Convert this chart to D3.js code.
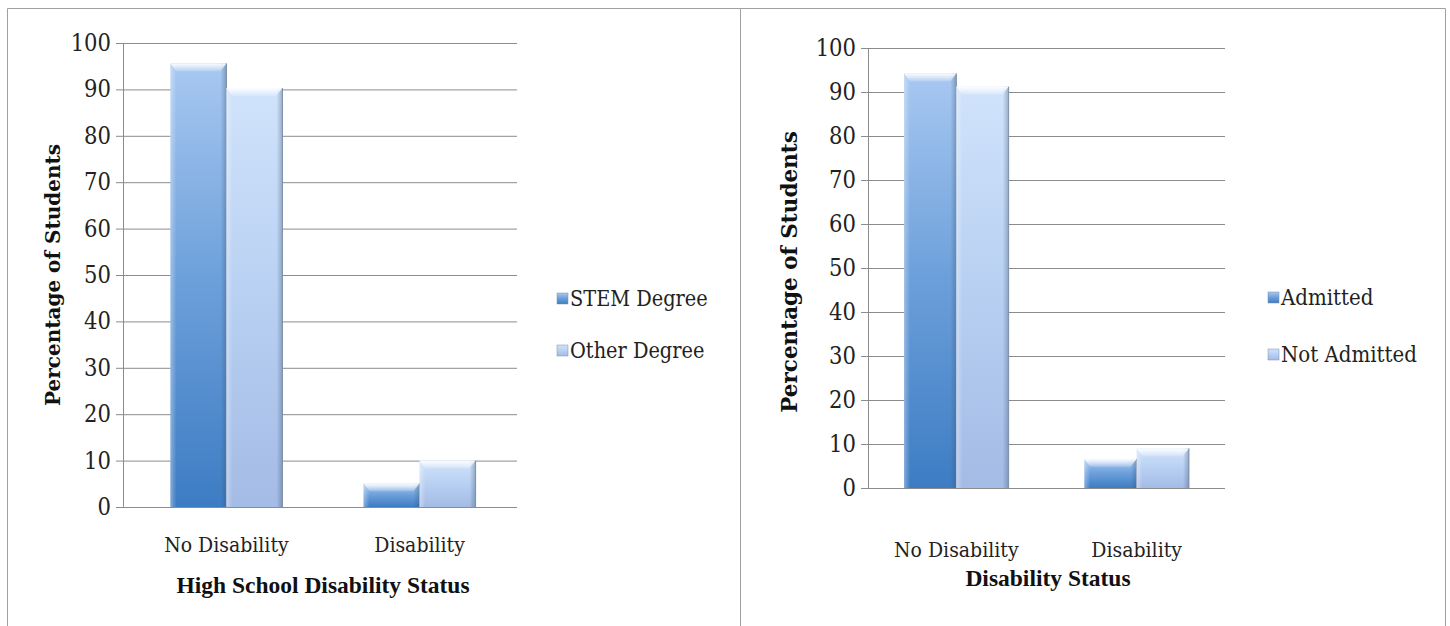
<!DOCTYPE html>
<html>
<head>
<meta charset="utf-8">
<script src="https://cdn.jsdelivr.net/npm/d3@7"></script>
<style>
  html, body { margin: 0; padding: 0; background: #fff; }
  svg { display: block; }
  .cond { font-family: "DejaVu Serif Condensed", "DejaVu Serif", serif; font-stretch: condensed; }
</style>
</head>
<body>
<svg id="chart" width="1450" height="626"></svg>
<script>
// Category and series data
const categories = ["No Disability", "Disability"];
const yTicks = [0, 10, 20, 30, 40, 50, 60, 70, 80, 90, 100];

const degreeSeries = ["STEM Degree", "Other Degree"];
const stemDegree = [95.6, 5.1];
const otherDegree = [90.3, 10.0];

const admissionSeries = ["Admitted", "Not Admitted"];
const admitted = [94.2, 6.6];
const notAdmitted = [91.2, 9.0];

const svg = d3.select("#chart");
const defs = svg.append("defs");

// Gradients for the two bar styles (dark blue / pale blue)
function vGrad(id, stops) {
  const g = defs.append("linearGradient").attr("id", id)
    .attr("x1", 0).attr("y1", 1).attr("x2", 0).attr("y2", 0);
  stops.forEach(s => g.append("stop").attr("offset", s[0]).attr("stop-color", s[1]));
}
vGrad("gDark", [[0, "#3d7cc3"], [0.5, "#6b9fda"], [1, "#a8c8f1"]]);
vGrad("gLight", [[0, "#a4bbe5"], [0.5, "#b8d0f2"], [1, "#d0e3fb"]]);
const hl = defs.append("linearGradient").attr("id", "gTop")
  .attr("x1", 0).attr("y1", 0).attr("x2", 0).attr("y2", 1);
hl.append("stop").attr("offset", 0).attr("stop-color", "#ffffff").attr("stop-opacity", 0.95);
hl.append("stop").attr("offset", 1).attr("stop-color", "#ffffff").attr("stop-opacity", 0.15);
const sideL = defs.append("linearGradient").attr("id", "gSideL")
  .attr("x1", 0).attr("y1", 0).attr("x2", 1).attr("y2", 0);
sideL.append("stop").attr("offset", 0).attr("stop-color", "#ffffff").attr("stop-opacity", 0.35);
sideL.append("stop").attr("offset", 1).attr("stop-color", "#ffffff").attr("stop-opacity", 0);
const sideR = defs.append("linearGradient").attr("id", "gSideR")
  .attr("x1", 0).attr("y1", 0).attr("x2", 1).attr("y2", 0);
sideR.append("stop").attr("offset", 0).attr("stop-color", "#35506f").attr("stop-opacity", 0);
sideR.append("stop").attr("offset", 1).attr("stop-color", "#35506f").attr("stop-opacity", 0.35);

const fills = ["url(#gDark)", "url(#gLight)"];
const boldFont = "'Liberation Serif', serif";
const titleFont = "'DejaVu Serif', serif";

// Panel frames
svg.append("path")
  .attr("d", "M7.5,630 V8.5 H1445.5 V630 M740.5,8.5 V630")
  .attr("fill", "none").attr("stroke", "#a0a0a0").attr("stroke-width", 1);

function drawPanel(opt) {
  const g = svg.append("g");
  const y = d3.scaleLinear().domain([0, 100]).range([opt.bottom, opt.top]);
  const x = d3.scaleBand().domain(categories).range([opt.left + opt.bandShift, opt.right + opt.bandShift])
    .paddingInner(opt.padIn).paddingOuter(opt.padOut);
  const xs = d3.scaleBand().domain(opt.series).range([0, x.bandwidth()]);

  // Gridlines with tick labels
  const yAxis = d3.axisLeft(y).tickValues(yTicks)
    .tickSize(-(opt.right - opt.left)).tickPadding(12);
  const ga = g.append("g").attr("transform", `translate(${opt.left},0)`).call(yAxis);
  ga.select(".domain").remove();
  ga.selectAll(".tick line").attr("stroke", "#8c8c8c").attr("x1", -7);
  ga.selectAll(".tick text")
    .attr("class", "cond").attr("font-size", opt.tickSize)
    .attr("fill", "#222");
  ga.attr("font-family", null);

  // Vertical axis line
  g.append("line")
    .attr("x1", opt.left + 0.5).attr("x2", opt.left + 0.5)
    .attr("y1", y(100)).attr("y2", y(0))
    .attr("stroke", "#8c8c8c");

  // Bars
  const rows = categories.map((c, i) => opt.series.map((s, j) => ({
    cat: c, ser: s, j: j, v: opt.values[j][i]
  }))).flat();

  const bars = g.selectAll("g.bar").data(rows).join("g").attr("class", "bar")
    .attr("transform", d => `translate(${x(d.cat) + xs(d.ser)},0)`);
  const bw = xs.bandwidth();
  bars.append("rect")
    .attr("x", 0).attr("width", bw)
    .attr("y", d => y(d.v)).attr("height", d => y(0) - y(d.v))
    .attr("fill", d => fills[d.j]);
  bars.append("rect")
    .attr("x", 0).attr("width", 6)
    .attr("y", d => y(d.v)).attr("height", d => y(0) - y(d.v))
    .attr("fill", "url(#gSideL)");
  bars.append("rect")
    .attr("x", bw - 6).attr("width", 6)
    .attr("y", d => y(d.v)).attr("height", d => y(0) - y(d.v))
    .attr("fill", "url(#gSideR)");
  bars.append("path")
    .attr("d", d => {
      const t = y(d.v), h = Math.min(8, (y(0) - y(d.v)) / 2);
      return `M0,${t} H${bw} L${bw - 6},${t + h} H6 Z`;
    })
    .attr("fill", "url(#gTop)");
  bars.append("rect")
    .attr("x", bw - 0.5).attr("width", 1)
    .attr("y", d => y(d.v)).attr("height", d => y(0) - y(d.v))
    .attr("fill", "#7d8ea6");

  // Category labels
  g.selectAll("text.catlab").data(categories).join("text")
    .attr("class", "cond catlab")
    .attr("x", d => x(d) + x.bandwidth() / 2)
    .attr("y", opt.catY)
    .attr("text-anchor", "middle")
    .attr("font-size", opt.catSize)
    .attr("fill", "#222")
    .text(d => d);

  // Axis titles
  g.append("text")
    .attr("x", opt.xTitleX).attr("y", opt.xTitleY)
    .attr("text-anchor", "middle")
    .attr("font-family", boldFont).attr("font-weight", "bold")
    .attr("font-size", opt.xTitleSize).attr("fill", "#111")
    .text(opt.xTitle);
  g.append("text")
    .attr("transform", `translate(${opt.yTitleX},${opt.yTitleY}) rotate(-90)`)
    .attr("text-anchor", "middle")
    .attr("font-family", titleFont).attr("font-weight", "bold")
    .attr("font-size", opt.yTitleSize).attr("fill", "#111")
    .text("Percentage of Students");

  // Legend
  const lg = g.selectAll("g.leg").data(opt.series).join("g").attr("class", "leg")
    .attr("transform", (d, i) => `translate(${opt.legX},${opt.legY + i * opt.legGap})`);
  lg.append("rect")
    .attr("x", 0).attr("y", -13).attr("width", 11).attr("height", 11)
    .attr("fill", (d, i) => fills[i]).attr("stroke", "#7d8ea6").attr("stroke-width", 0.5);
  lg.append("text")
    .attr("class", "cond")
    .attr("x", 13).attr("y", 0)
    .attr("font-size", opt.legSize)
    .attr("fill", "#222")
    .text(d => d);
}

drawPanel({
  left: 123, right: 517, top: 43, bottom: 507, bandShift: 3, padIn: 0.42, padOut: 0.23,
  series: degreeSeries, values: [stemDegree, otherDegree],
  tickSize: 23.5, catSize: 21, catY: 552,
  xTitle: "High School Disability Status", xTitleX: 323, xTitleY: 593, xTitleSize: 23.5,
  yTitleX: 60, yTitleY: 275, yTitleSize: 20,
  legX: 557, legY: 306, legGap: 52, legSize: 21.5
});

drawPanel({
  left: 868, right: 1225, top: 48, bottom: 488, bandShift: 0, padIn: 0.42, padOut: 0.2,
  series: admissionSeries, values: [admitted, notAdmitted],
  tickSize: 23.5, catSize: 21, catY: 557,
  xTitle: "Disability Status", xTitleX: 1048, xTitleY: 586, xTitleSize: 23.5,
  yTitleX: 797, yTitleY: 272, yTitleSize: 21.5,
  legX: 1268, legY: 305, legGap: 57, legSize: 22
});
</script>
</body>
</html>
